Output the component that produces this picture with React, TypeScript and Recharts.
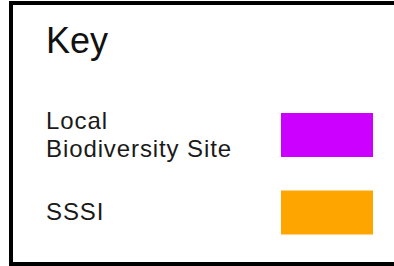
import { Bar, BarChart, Cell, XAxis, YAxis } from 'recharts';

const title = 'Key';
const categories = ['Local\nBiodiversity Site', 'SSSI'];
const swatchValues = [1, 1];
const swatchColors = ['#cc00ff', '#ffa500'];

const data = categories.map((name, i) => ({ name, value: swatchValues[i] }));

const FONT = '"Liberation Sans", Arial, sans-serif';

function KeyTick(props: any) {
	const { y, payload } = props;
	const lines = String(payload.value).split('\n');
	const lineHeight = 28;
	const firstBaseline = y + 8 - ((lines.length - 1) * lineHeight) / 2;
	return (
		<text
			x={46}
			y={firstBaseline}
			fill='#1a1a1a'
			fontSize={24}
			fontFamily={FONT}
			letterSpacing={0.9}
			textAnchor='start'
		>
			{lines.map((line, i) => (
				<tspan key={i} x={46} y={firstBaseline + i * lineHeight}>
					{line}
				</tspan>
			))}
		</text>
	);
}

export default function App() {
	return (
		<div
			style={{
				position: 'fixed',
				left: 0,
				top: 0,
				width: 394,
				height: 266,
				background: '#fff',
				overflow: 'hidden',
			}}
		>
			{/* open frame: left, top and bottom edges only */}
			<svg
				width={394}
				height={266}
				style={{ position: 'absolute', left: 0, top: 0 }}
			>
				<path
					d='M 420 3 H 11 V 264 H 420'
					fill='none'
					stroke='#000'
					strokeWidth={4}
				/>
			</svg>
			<div
				style={{
					position: 'absolute',
					left: 46,
					top: 20,
					fontFamily: FONT,
					fontSize: 36,
					lineHeight: '42px',
					color: '#111',
				}}
			>
				{title}
			</div>
			<div style={{ position: 'absolute', left: 0, top: 0 }}>
				<BarChart
					width={394}
					height={266}
					data={data}
					layout='vertical'
					margin={{ top: 96, right: 21, left: 0, bottom: 15 }}
					barCategoryGap={0}
				>
					<XAxis type='number' domain={[0, 1]} hide />
					<YAxis
						type='category'
						dataKey='name'
						width={281}
						axisLine={false}
						tickLine={false}
						tick={<KeyTick />}
						interval={0}
					/>
					<Bar dataKey='value' barSize={44} isAnimationActive={false}>
						{data.map((d, i) => (
							<Cell key={d.name} fill={swatchColors[i]} />
						))}
					</Bar>
				</BarChart>
			</div>
		</div>
	);
}
